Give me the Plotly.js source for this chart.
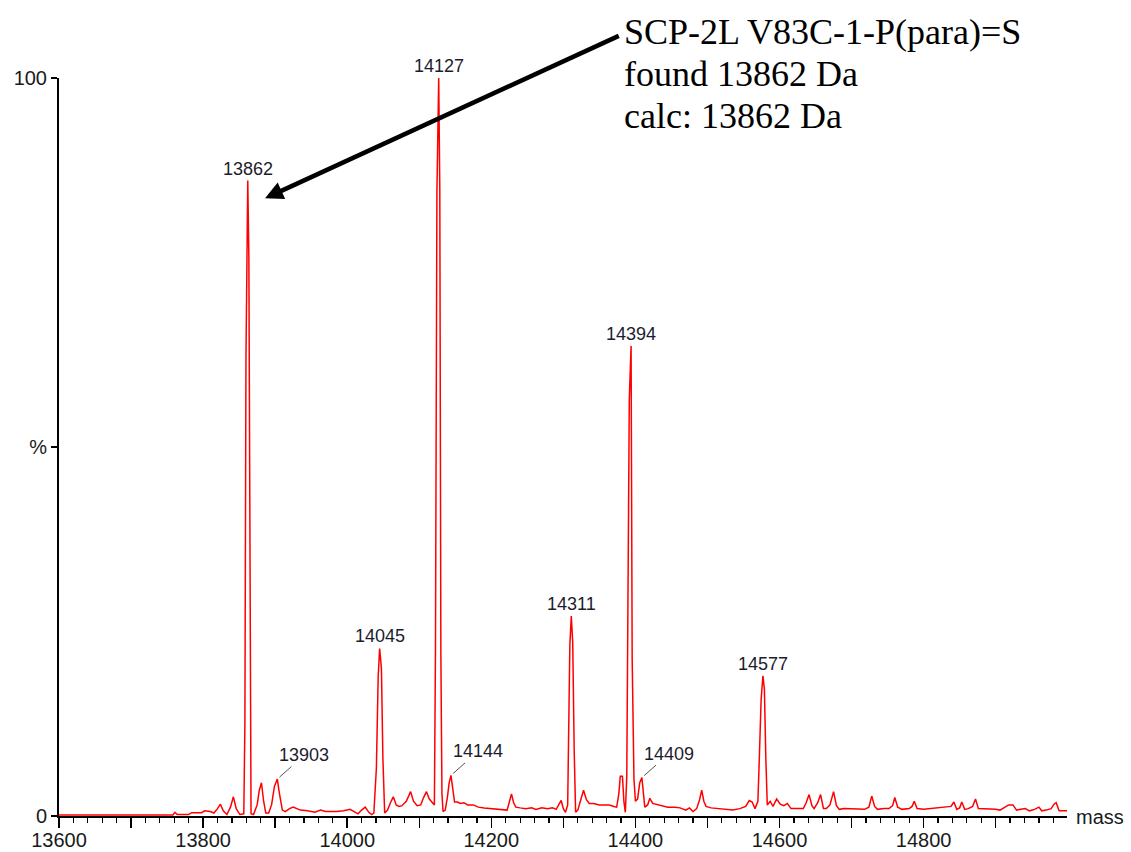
<!DOCTYPE html>
<html>
<head>
<meta charset="utf-8">
<script src="https://cdn.plot.ly/plotly-3.0.1.min.js"></script>
<style>
  html, body { margin: 0; padding: 0; background: #ffffff; }
  #chart { width: 1131px; height: 852px; }
</style>
</head>
<body>
<div id="chart"></div>
<script>
// ---- Spectrum data (mass in Da, relative intensity in %) ----
const mass = [
  13600, 13700, 13758, 13761, 13764, 13780, 13784, 13798, 13802, 13810,
  13815, 13820, 13824, 13828, 13833, 13838, 13842, 13846, 13851, 13856.5,
  13858, 13859.5, 13862, 13863.5, 13865, 13866.5, 13870, 13875, 13878, 13881,
  13884, 13887, 13891, 13895, 13899, 13903, 13906, 13910, 13914, 13920,
  13925, 13930, 13935, 13945, 13955, 13963, 13970, 13985, 13995, 14004,
  14010, 14015, 14020, 14025, 14030, 14034, 14037, 14040.5, 14043, 14045,
  14047.5, 14049.5, 14052, 14056, 14060, 14064, 14068, 14072, 14076, 14082,
  14088, 14092, 14097, 14102, 14106, 14110, 14114, 14118, 14121, 14122.5,
  14124.5, 14127, 14128.5, 14130, 14131.5, 14133, 14136, 14139, 14141.5, 14144,
  14146.5, 14149, 14153, 14157, 14162, 14167, 14175, 14182, 14190, 14200,
  14210, 14218, 14222, 14225, 14228, 14231, 14234, 14240, 14248, 14256,
  14262, 14270, 14278, 14285, 14290, 14294, 14297, 14300, 14303, 14306,
  14307, 14309, 14311, 14313, 14315, 14317, 14320, 14324, 14328, 14332,
  14336, 14342, 14350, 14358, 14364, 14370, 14374, 14377, 14379, 14382,
  14384, 14386, 14388, 14389, 14391.5, 14394, 14395.5, 14398, 14400, 14403,
  14406, 14409, 14411, 14413, 14417, 14420, 14424, 14428, 14435, 14445,
  14455, 14462, 14470, 14475, 14480, 14485, 14489, 14492, 14495, 14498,
  14505, 14515, 14525, 14535, 14545, 14553, 14558, 14562, 14566, 14570,
  14572, 14574.5, 14577, 14579, 14581, 14583, 14587, 14591, 14596, 14601,
  14606, 14611, 14616, 14625, 14633, 14637, 14641, 14645, 14648, 14653,
  14657, 14661, 14665, 14670, 14675, 14679, 14683, 14690, 14700, 14710,
  14718, 14724, 14728, 14732, 14736, 14745, 14752, 14757, 14760, 14764,
  14770, 14780, 14784, 14787, 14791, 14800, 14810, 14820, 14830, 14838,
  14842, 14846, 14850, 14853, 14857, 14862, 14868, 14872, 14876, 14885,
  14893, 14900, 14906, 14912, 14918, 14924, 14929, 14935, 14941, 14947,
  14954, 14960, 14964, 14970, 14977, 14981, 14984, 14988, 14996, 15000
];
const intensity = [
  0.15, 0.15, 0.15, 0.5, 0.2, 0.2, 0.45, 0.45, 0.7, 0.6,
  0.4, 1.0, 1.6, 0.7, 0.2, 1.2, 2.6, 1.0, 0.2, 0.3,
  12.5, 62.1, 86.1, 75.7, 24.9, 0.3, 0.2, 1.5, 3.5, 4.5,
  2.0, 0.4, 0.4, 1.5, 4.0, 5.0, 3.0, 0.8, 0.6, 1.0,
  1.2, 1.0, 0.8, 0.7, 0.5, 0.8, 0.6, 0.6, 0.7, 0.9,
  0.6, 0.3, 0.8, 1.2, 0.5, 0.2, 0.4, 6.5, 18.9, 22.7,
  20.0, 7.9, 0.4, 0.8, 1.8, 2.6, 1.5, 1.3, 1.4, 2.0,
  3.3, 2.0, 1.4, 1.5, 2.5, 3.3, 2.3, 1.9, 1.5, 22.5,
  84.3, 100, 85, 22, 3.0, 0.6, 0.8, 2.5, 4.5, 5.5,
  3.5, 1.9, 1.9, 1.7, 1.8, 1.5, 1.5, 1.2, 1.1, 1.0,
  1.0, 0.9, 0.8, 1.9, 3.0, 1.8, 1.2, 1.1, 1.0, 1.1,
  0.9, 1.1, 1.0, 1.1, 0.9, 1.6, 2.1, 1.0, 0.5, 1.5,
  8.1, 23.1, 27.1, 23.5, 9.0, 0.5, 0.8, 2.0, 3.5, 2.2,
  1.7, 1.7, 1.5, 1.5, 1.5, 1.3, 1.2, 3.0, 5.4, 5.4,
  2.0, 0.5, 5.3, 19.9, 56.4, 63.7, 21.3, 5.0, 2.0, 2.3,
  4.5, 5.2, 3.0, 1.2, 1.5, 2.4, 1.7, 1.6, 1.5, 1.2,
  1.2, 1.1, 0.8, 1.1, 0.6, 1.0, 2.2, 3.5, 2.0, 1.3,
  1.1, 1.0, 0.9, 0.8, 1.0, 1.3, 2.1, 1.9, 1.0, 2.0,
  7.9, 15.8, 19.0, 17.2, 7.9, 1.5, 2.0, 1.3, 2.3, 1.6,
  1.4, 1.7, 1.0, 1.0, 1.0, 1.8, 2.9, 1.4, 1.0, 1.8,
  2.9, 1.0, 1.0, 1.5, 3.3, 1.4, 0.9, 1.0, 1.0, 1.0,
  0.9, 1.2, 2.7, 1.3, 0.9, 1.0, 1.0, 1.4, 2.5, 1.2,
  0.9, 1.0, 1.3, 2.0, 1.0, 0.9, 1.0, 1.1, 1.2, 1.3,
  1.9, 0.9, 1.1, 1.9, 0.9, 1.0, 1.3, 2.3, 1.0, 1.0,
  1.0, 0.9, 0.8, 1.2, 1.5, 1.5, 0.8, 0.9, 1.0, 0.7,
  0.9, 1.2, 0.7, 0.8, 1.0, 1.6, 1.8, 0.7, 0.7, 0.7
];

// ---- Peak labels ----
const topLabelMasses = [13862, 14045, 14127, 14311, 14394, 14577];
const leaderLabelMasses = [13903, 14144, 14409];

// ---- Annotation text ----
const noteLines = ["SCP-2L V83C-1-P(para)=S", "found 13862 Da", "calc: 13862 Da"];
const arrowTarget = { mass: 13886, pct: 83.7 };
const arrowTail = { mass: 14379, pct: 105.8 };

// ---- Axis labels ----
const yTickVals = [0, 50, 100];
const yTickText = ["0", "%", "100"];
const xAxisLabel = "mass";

function heightAt(m) {
  let best = 0;
  for (let i = 0; i < mass.length; i++) {
    if (Math.abs(mass[i] - m) <= 0.6 && intensity[i] > best) best = intensity[i];
  }
  return best;
}

const labelFont = { family: "Liberation Sans, Arial, sans-serif", size: 18, color: "#1c1c2c" };
const tickFont = { family: "Liberation Sans, Arial, sans-serif", size: 20, color: "#1a1a1a" };

const annotations = [];
topLabelMasses.forEach(m => {
  annotations.push({
    x: m, y: heightAt(m), xref: "x", yref: "y",
    text: String(m), showarrow: false,
    xanchor: "center", yanchor: "middle", yshift: 12,
    font: labelFont
  });
});
leaderLabelMasses.forEach(m => {
  annotations.push({
    x: m, y: heightAt(m), xref: "x", yref: "y",
    text: String(m), showarrow: true, arrowhead: 0,
    arrowwidth: 1, arrowcolor: "#555555",
    ax: 27, ay: -24, standoff: 3,
    font: labelFont
  });
});
// big arrow
annotations.push({
  x: arrowTarget.mass, y: arrowTarget.pct, xref: "x", yref: "y",
  axref: "x", ayref: "y", ax: arrowTail.mass, ay: arrowTail.pct,
  text: "", showarrow: true, arrowhead: 2, arrowsize: 0.8,
  arrowwidth: 4.5, arrowcolor: "#000000"
});
// note text lines
const noteTops = [1.0921, 1.0352, 0.9783];
noteLines.forEach((t, i) => {
  annotations.push({
    x: 0.5585, y: noteTops[i], xref: "paper", yref: "paper",
    xanchor: "left", yanchor: "top", showarrow: false, text: t,
    font: { family: "Liberation Serif, Times New Roman, serif", size: 36, color: "#000000" }
  });
});
// x axis name
annotations.push({
  x: 1, y: 0, xref: "paper", yref: "paper", xanchor: "left", yanchor: "middle",
  xshift: 7, yshift: -1, showarrow: false, text: xAxisLabel, font: tickFont
});

const trace = {
  x: mass, y: intensity, type: "scatter", mode: "lines",
  line: { color: "#ff0000", width: 1.5 },
  hoverinfo: "x+y"
};

const layout = {
  width: 1131, height: 852,
  margin: { l: 59, r: 64, t: 78, b: 36 },
  paper_bgcolor: "#ffffff", plot_bgcolor: "#ffffff",
  showlegend: false,
  xaxis: {
    range: [13600, 14999], showgrid: false, zeroline: false,
    showline: true, linecolor: "#000000", linewidth: 2,
    ticks: "outside", ticklen: 10, tickwidth: 1.5, tickcolor: "#000000",
    tickmode: "linear", tick0: 13600, dtick: 100, ticklabelstep: 2,
    ticklabelstandoff: -5,
    tickformat: "d", tickfont: tickFont,
    minor: { ticks: "outside", dtick: 20, tick0: 13600, ticklen: 5, tickwidth: 1.2, tickcolor: "#000000", showgrid: false }
  },
  yaxis: {
    range: [0, 100], showgrid: false, zeroline: false,
    showline: true, linecolor: "#000000", linewidth: 2,
    ticks: "outside", ticklen: 6, tickwidth: 1.5, tickcolor: "#000000",
    tickmode: "array", tickvals: yTickVals, ticktext: yTickText,
    tickfont: tickFont
  },
  annotations: annotations
};

Plotly.newPlot("chart", [trace], layout, { displayModeBar: false, staticPlot: true });
</script>
</body>
</html>
